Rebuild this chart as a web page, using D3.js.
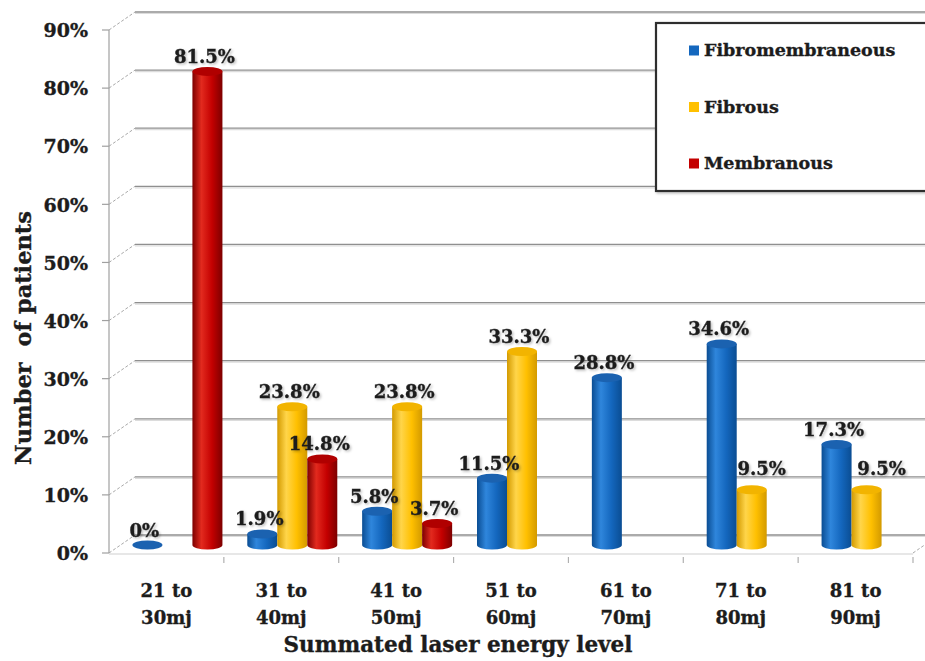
<!DOCTYPE html>
<html>
<head>
<meta charset="utf-8">
<script src="https://cdn.jsdelivr.net/npm/d3@7"></script>
<style>
  body { margin: 0; background: #fff; }
  svg { display: block; }
  text { font-family: "DejaVu Serif", "Liberation Serif", serif; font-weight: bold; fill: #1c1c1c; stroke: #1c1c1c; stroke-width: 0.35px; }
</style>
</head>
<body>
<svg id="chart" width="925" height="661"></svg>
<script>
// ---- data ----
const categories = ["21 to 30mj", "31 to 40mj", "41 to 50mj", "51 to 60mj", "61 to 70mj", "71 to 80mj", "81 to 90mj"];
const seriesNames = ["Fibromembraneous", "Fibrous", "Membranous"];
const fibromembraneous = [0, 1.9, 5.8, 11.5, 28.8, 34.6, 17.3];
const fibrous = [null, 23.8, 23.8, 33.3, null, 9.5, 9.5];
const membranous = [81.5, 14.8, 3.7, null, null, null, null];
const yTicks = [0, 10, 20, 30, 40, 50, 60, 70, 80, 90];
const seriesColors = {
  Fibromembraneous: { edge: "#0a4d93", mid: "#2f86dc", base: "#1467be", top: "#1b62b0" },
  Fibrous:          { edge: "#d39a00", mid: "#ffd54a", base: "#ffc000", top: "#f2b400" },
  Membranous:       { edge: "#7d0000", mid: "#e22a1e", base: "#c40000", top: "#b00000" }
};
const seriesValues = [fibromembraneous, fibrous, membranous];
// hand-placed value labels that sit off the bar centre
const labelNudge = { "Fibrous|71 to 80mj": [13, -6], "Fibrous|81 to 90mj": [18, -6] };

// ---- layout ----
const svg = d3.select("#chart");
const depthX = 26, depthY = -18;     // offset from front plane to back wall
const barDx = 11, barDy = -8;        // bars stand in the middle of the depth
const x = d3.scaleBand().domain(categories).range([109, 913]).paddingInner(0);
const inner = d3.scaleBand().domain(seriesNames).range([-45, 45]);
const y = d3.scaleLinear().domain([0, 90]).range([553, 30]);
const ry = 4.5;

const defs = svg.append("defs");
seriesNames.forEach((s, i) => {
  const c = seriesColors[s];
  const g = defs.append("linearGradient").attr("id", "grad" + i).attr("x1", "0").attr("x2", "1").attr("y1", "0").attr("y2", "0");
  g.append("stop").attr("offset", "0").attr("stop-color", c.edge);
  g.append("stop").attr("offset", "0.3").attr("stop-color", c.mid);
  g.append("stop").attr("offset", "0.65").attr("stop-color", c.base);
  g.append("stop").attr("offset", "1").attr("stop-color", c.edge);
});
const shadow = defs.append("filter").attr("id", "shadow").attr("x", "-10%").attr("y", "-10%").attr("width", "130%").attr("height", "140%");
shadow.append("feDropShadow").attr("dx", 1.5).attr("dy", 1.5).attr("stdDeviation", 1).attr("flood-color", "#000").attr("flood-opacity", 0.25);

// ---- back wall gridlines ----
const grid = svg.append("g");
yTicks.forEach(t => {
  const yy = y(t) + depthY;
  grid.append("line").attr("x1", 109 + depthX).attr("x2", 913 + depthX)
    .attr("y1", yy + 1.5).attr("y2", yy + 1.5).attr("stroke", "#dcdcdc").attr("stroke-width", 1.2);
  grid.append("line").attr("x1", 109 + depthX).attr("x2", 913 + depthX)
    .attr("y1", yy).attr("y2", yy).attr("stroke", "#8f8f8f").attr("stroke-width", 1.3);
  // side wall connector from the front axis to the back wall
  grid.append("line").attr("x1", 109).attr("y1", y(t)).attr("x2", 109 + depthX).attr("y2", yy)
    .attr("stroke", "#a8a8a8").attr("stroke-width", 1).attr("stroke-dasharray", "3,2");
});

// floor right edge
grid.append("line").attr("x1", 913).attr("y1", y(0)).attr("x2", 913 + depthX).attr("y2", y(0) + depthY)
  .attr("stroke", "#a8a8a8").attr("stroke-width", 1).attr("stroke-dasharray", "3,2");

// ---- front axes ----
const axisG = svg.append("g");
axisG.append("line").attr("x1", 109).attr("x2", 109).attr("y1", y(0)).attr("y2", y(90))
  .attr("stroke", "#a0a0a0").attr("stroke-width", 1.2);
axisG.append("line").attr("x1", 109).attr("x2", 913).attr("y1", y(0) + 1).attr("y2", y(0) + 1)
  .attr("stroke", "#d0d0d0").attr("stroke-width", 1.2);
yTicks.forEach(t => {
  axisG.append("line").attr("x1", 102).attr("x2", 109).attr("y1", y(t)).attr("y2", y(t))
    .attr("stroke", "#a0a0a0").attr("stroke-width", 1.2);
  axisG.append("text").attr("x", 88).attr("y", y(t)).attr("dy", "0.38em")
    .attr("text-anchor", "end").attr("font-size", 19).text(t + "%");
});
const bounds = categories.map(c => x(c)).concat([x.range()[1]]);
bounds.slice(1).forEach(bx => {
  axisG.append("line").attr("x1", bx).attr("x2", bx).attr("y1", y(0) + 4).attr("y2", y(0) + 10)
    .attr("stroke", "#b0b0b0").attr("stroke-width", 1.2);
});
categories.forEach(c => {
  const parts = c.split(" ");
  const cx = x(c) + x.bandwidth() / 2;
  const label = axisG.append("text").attr("x", cx).attr("y", 597)
    .attr("text-anchor", "middle").attr("font-size", 18);
  label.append("tspan").attr("x", cx).attr("dy", 0).text(parts[0] + " " + parts[1]);
  label.append("tspan").attr("x", cx).attr("dy", 27).text(parts[2]);
});

// axis titles
svg.append("text").attr("x", 458).attr("y", 652).attr("text-anchor", "middle")
  .attr("font-size", 21.5).text("Summated laser energy level");
svg.append("text").attr("transform", "translate(31,338) rotate(-90)").attr("text-anchor", "middle")
  .attr("font-size", 22.5).style("white-space", "pre").text("Number  of patients");

// ---- cylinders ----
const bars = [];
seriesNames.forEach((s, si) => {
  seriesValues[si].forEach((v, ci) => {
    if (v === null) return;
    bars.push({ s, si, v, cat: categories[ci] });
  });
});
const barG = svg.append("g");
const w = inner.bandwidth();
bars.forEach(b => {
  const cx = x(b.cat) + x.bandwidth() / 2 + inner(b.s) + w / 2 + barDx;
  const yTop = y(b.v) + barDy;
  const yBot = y(0) + barDy;
  const rx = w / 2;
  const g = barG.append("g");
  if (b.v > 0) {
    const p = `M${cx - rx},${yTop} L${cx - rx},${yBot} A${rx},${ry} 0 0 0 ${cx + rx},${yBot} L${cx + rx},${yTop} Z`;
    g.append("path").attr("d", p).attr("fill", `url(#grad${b.si})`);
  }
  g.append("ellipse").attr("cx", cx).attr("cy", yTop).attr("rx", rx).attr("ry", ry)
    .attr("fill", seriesColors[b.s].top);
  b.cx = cx; b.yTop = yTop;
});

// value labels
const labelG = svg.append("g").attr("filter", "url(#shadow)");
bars.forEach(b => {
  const n = labelNudge[b.s + "|" + b.cat] || [0, 0];
  labelG.append("text").attr("x", b.cx - 3 + n[0]).attr("y", b.yTop - ry - 4 + n[1])
    .attr("text-anchor", "middle").attr("font-size", 18).text(b.v + "%");
});

// ---- legend ----
const legend = svg.append("g");
legend.append("rect").attr("x", 656).attr("y", 23).attr("width", 290).attr("height", 168)
  .attr("fill", "#fff").attr("stroke", "#2e2e2e").attr("stroke-width", 2.2).attr("filter", "url(#shadow)");
const legendY = d3.scalePoint().domain(seriesNames).range([50, 163]);
seriesNames.forEach(s => {
  legend.append("rect").attr("x", 689).attr("y", legendY(s) - 4.5).attr("width", 10).attr("height", 10)
    .attr("fill", seriesColors[s].base);
  legend.append("text").attr("x", 704).attr("y", legendY(s)).attr("dy", "0.35em")
    .attr("font-size", 17.5).text(s);
});
</script>
</body>
</html>
